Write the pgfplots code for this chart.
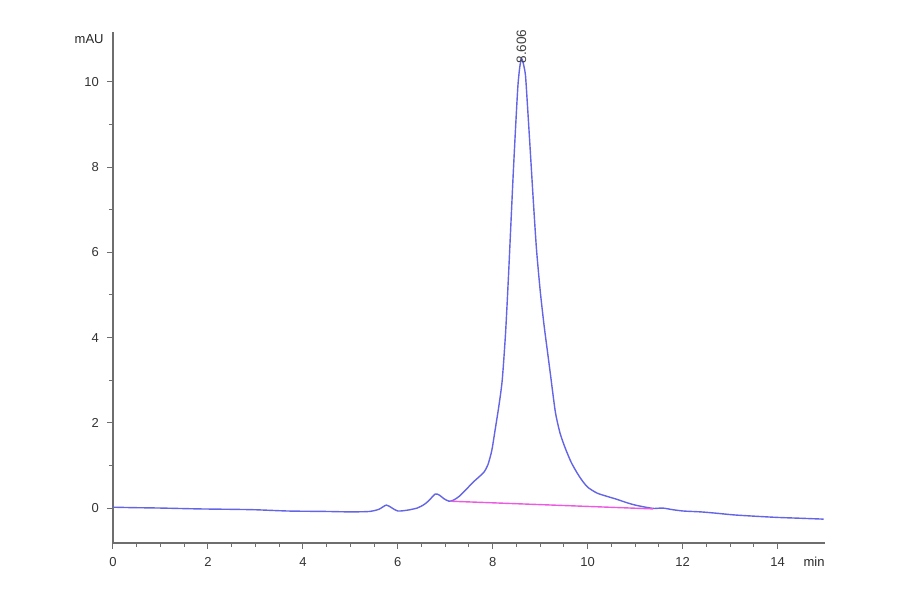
\documentclass[border=0pt]{standalone}
\usepackage{fontspec}
\setmainfont{Liberation Sans}
\usepackage{pgfplots}
\pgfplotsset{compat=1.18}
\definecolor{trace}{RGB}{100,100,230}
\definecolor{base}{RGB}{235,90,225}
\definecolor{axg}{RGB}{110,110,110}
\begin{document}
\begin{tikzpicture}
\useasboundingbox (-56.5pt,-25.5pt) rectangle (393.5pt,271.5pt);
\begin{axis}[
  at={(0,0)}, anchor=south west,
  scale only axis, width=356pt, height=255.5pt,
  xmin=0, xmax=15, ymin=-0.82, ymax=11.17,
  axis x line*=bottom, axis y line*=left,
  axis line style={axg, line width=0.6pt},
  xtick={0,2,...,14}, ytick={0,2,...,10},
  minor x tick num=3, minor y tick num=1,
  tick align=outside,
  major tick length=3pt, minor tick length=2pt,
  every tick/.style={axg, line width=0.5pt},
  tick label style={font=\fontsize{6.5}{7}\selectfont, text=black!80},
  /pgf/number format/assume math mode=true,
  xticklabel style={yshift=-0.5pt},
  yticklabel style={xshift=-0.5pt},
  clip=false,
]
\addplot[trace, line width=0.7pt, smooth, tension=0.4] coordinates {
(0,0.02) (0.4,0.01) (1.0,0.0) (1.8,-0.02) (2.5,-0.03) (3.0,-0.04) (3.7,-0.07)
(4.5,-0.08) (5.0,-0.09) (5.4,-0.08) (5.6,-0.03) (5.76,0.07) (5.88,0.0) (6.0,-0.07)
(6.2,-0.05) (6.41,0.0) (6.55,0.08) (6.65,0.17) (6.79,0.33) (6.88,0.30) (6.97,0.22)
(7.08,0.16) (7.18,0.19) (7.3,0.28) (7.46,0.46) (7.6,0.62) (7.72,0.74) (7.82,0.85)
(7.9,1.02) (7.98,1.35) (8.05,1.83) (8.13,2.4) (8.2,3.0) (8.27,4.1) (8.33,5.4)
(8.38,6.6) (8.43,7.8) (8.48,8.9) (8.53,9.9) (8.57,10.35) (8.606,10.55) (8.64,10.45)
(8.69,10.15) (8.74,9.3) (8.79,8.4) (8.85,7.3) (8.92,6.1) (9.0,5.1) (9.08,4.3)
(9.15,3.7) (9.22,3.1) (9.32,2.25) (9.42,1.75) (9.53,1.4) (9.65,1.08) (9.78,0.82)
(9.9,0.62) (10.01,0.48) (10.2,0.35) (10.42,0.27) (10.6,0.21) (10.84,0.12) (11.0,0.07)
(11.22,0.02) (11.4,-0.01) (11.58,0.0) (11.8,-0.04) (12.02,-0.07) (12.38,-0.09)
(12.7,-0.12) (13.07,-0.16) (13.5,-0.19) (14.0,-0.22) (14.5,-0.24) (14.97,-0.26)
};
\addplot[base, line width=0.7pt] coordinates {(7.12,0.16) (11.38,-0.02)};
\node[rotate=90, anchor=west, font=\fontsize{6.8}{7}\selectfont, text=black!75, inner sep=0pt]
  at (axis cs:8.606,10.42) {8.606};
\node[anchor=east, font=\fontsize{6.5}{7}\selectfont, text=black!85, inner sep=0pt]
  at ([xshift=-4.5pt,yshift=-3.5pt]rel axis cs:0,1) {mAU};
\node[anchor=east, font=\fontsize{6.5}{7}\selectfont, text=black!85, inner sep=0pt]
  at ([xshift=0pt,yshift=-9.5pt]rel axis cs:1,0) {min};
\end{axis}
\end{tikzpicture}
\end{document}
